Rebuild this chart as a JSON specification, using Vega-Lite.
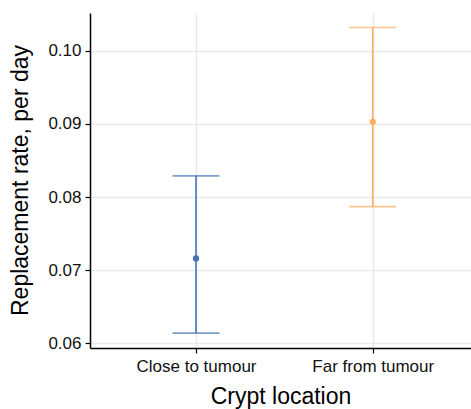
{
  "$schema": "https://vega.github.io/schema/vega-lite/v6.json",
  "autosize": "none",
  "padding": {"left": 90, "top": 13, "right": 0, "bottom": 61},
  "width": 381,
  "height": 335,
  "background": "white",
  "config": {
    "view": {"stroke": null},
    "font": "Liberation Sans",
    "axis": {
      "domainColor": "black",
      "domainWidth": 1.5,
      "tickColor": "black",
      "tickWidth": 1.2,
      "tickSize": 5,
      "gridColor": "#ebebeb",
      "gridWidth": 1.5,
      "labelColor": "#111111",
      "titleColor": "black",
      "titleFontWeight": "normal",
      "titleFont": "Liberation Sans",
      "labelFont": "Liberation Sans"
    }
  },
  "data": {
    "values": [
      {"location": "Close to tumour", "rate": 0.0716, "lower": 0.0614, "upper": 0.0829},
      {"location": "Far from tumour", "rate": 0.0903, "lower": 0.0787, "upper": 0.1032}
    ]
  },
  "encoding": {
    "x": {
      "field": "location",
      "type": "nominal",
      "scale": {"type": "point", "padding": 0.578, "align": 0.519},
      "axis": {
        "title": "Crypt location",
        "labelAngle": 0,
        "labelFontSize": 17,
        "labelPadding": 5,
        "titleFontSize": 23,
        "titlePadding": 11,
        "grid": true
      }
    },
    "color": {
      "field": "location",
      "type": "nominal",
      "scale": {"range": ["#4575b4", "#fdae61"]},
      "legend": null
    }
  },
  "layer": [
    {
      "mark": {"type": "rule", "strokeWidth": 1.6},
      "encoding": {
        "y": {
          "field": "lower",
          "type": "quantitative",
          "scale": {"domain": [0.05936, 0.10518], "nice": false, "zero": false},
          "axis": {
            "title": "Replacement rate, per day",
            "values": [0.06, 0.07, 0.08, 0.09, 0.1],
            "format": ".2f",
            "labelFontSize": 17,
            "labelPadding": 4,
            "titleFontSize": 23,
            "titleX": -58,
            "titleY": 167,
            "titleAngle": -90,
            "titleAlign": "center",
            "titleBaseline": "bottom"
          }
        },
        "y2": {"field": "upper"}
      }
    },
    {
      "mark": {"type": "tick", "size": 47, "thickness": 1.6, "orient": "horizontal"},
      "encoding": {"y": {"field": "upper", "type": "quantitative"}}
    },
    {
      "mark": {"type": "tick", "size": 47, "thickness": 1.6, "orient": "horizontal"},
      "encoding": {"y": {"field": "lower", "type": "quantitative"}}
    },
    {
      "mark": {"type": "point", "filled": true, "opacity": 1, "size": 40},
      "encoding": {"y": {"field": "rate", "type": "quantitative"}}
    }
  ]
}
